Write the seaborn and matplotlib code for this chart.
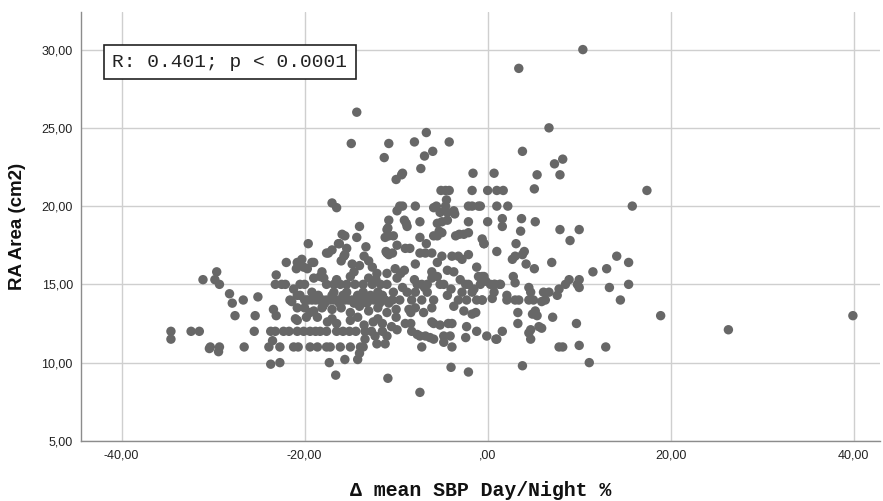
import matplotlib
matplotlib.use("Agg")
import matplotlib.pyplot as plt
import seaborn as sns
import pandas as pd
from matplotlib.ticker import FuncFormatter, FixedLocator

# ---- data ----
delta_sbp = [
    # far left
    -34.6, -34.6, -32.4, -31.5, -31.1, -29.8, -29.6, -29.3, -30.3, -29.3, -29.4, -30.4,
    -28.2, -27.9, -26.7, -25.1, -27.6, -25.4, -25.5, -26.6,
    # -24 .. -20
    -23.1, -23.2, -22.1, -22.5, -22.0, -20.3, -20.9, -21.2, -20.8, -21.6, -21.4, -20.8,
    -21.0, -23.4, -23.1, -23.5,
    # row ~12
    -23.7, -23.2, -22.3, -21.7, -20.8, -20.1, -19.4, -18.8, -18.3, -17.6, -16.5, -15.8,
    -15.1, -14.4, -13.4, -12.7, -11.5,
    # row ~11
    -23.9, -22.7, -21.2, -20.7, -19.4, -18.6, -17.6, -17.2, -16.1, -15.0, -13.9, -13.6,
    -12.1, -11.2,
    # low
    -23.7, -22.7, -17.3, -15.6, -14.2, -14.0, -16.6, -10.9,
    # -20..-16 upper
    -19.6, -17.6, -19.0, -19.7, -20.8, -20.1, -19.2, -18.1, -17.9, -17.0, -16.2, -15.6,
    -16.3, -15.4, -17.4, -15.7,
    # row 15
    -20.5, -20.0, -17.6, -16.8, -16.1, -15.4, -14.5, -13.6, -12.6, -11.7, -11.0,
    # row 14.5
    -19.2, -16.8, -15.4, -13.6, -12.0, -10.3,
    # row 14
    -20.0, -19.6, -19.2, -18.4, -17.6, -16.8, -16.0, -15.2, -14.4, -13.6, -12.8, -12.0,
    -11.2, -10.4, -9.6,
    # row 13.x
    -20.0, -19.4, -18.1, -19.0, -18.0, -17.0, -16.0, -15.0, -14.0, -13.0, -12.0, -11.0, -10.0,
    # row 12.x
    -18.6, -17.5, -16.5, -15.0, -13.5, -12.5, -11.5, -10.5, -20.8,
    -11.0, -9.9, -12.3, -13.4,
    # dense core extra
    -19.8, -18.8, -18.0, -17.2, -16.4, -15.6, -14.8, -14.0, -13.2, -12.4,
    -20.5, -18.5, -17.0, -15.8, -14.2, -12.8, -11.5,
    -19.0, -18.3, -16.5, -15.0, -13.0, -12.2,
    -17.8, -16.2, -14.6, -13.2, -11.8, -10.8,
    -19.8, -17.0, -14.2, -12.0, -10.0,
    -16.0, -14.8, -13.5,
    -9.3, -8.0, -6.9, -5.5, -4.0, -3.0, -1.5, -0.2,
    # upper mid
    -14.3, -14.9, -10.8, -11.3, -10.0, -17.0, -16.5, -10.8, -14.0, -14.3, -15.9, -15.6,
    -9.9, -9.6, -11.0, -10.8, -10.3, -11.2, -13.3, -11.0, -10.4, -9.9, -10.9, -11.1, -10.8,
    -14.6, -12.6, -12.1, -11.0, -10.1, -9.9, -13.0, -14.0,
    # -10 .. 0
    -8.0, -6.7, -4.2, -6.0, -6.9, -7.3, -9.3, -9.4, -1.6, 0.7,
    -5.1, -4.6, -4.2, -1.7, 0.0, 1.0, 1.7,
    -4.5, -4.6, -9.3, -7.9, -5.9, -5.6, -3.7, -3.6, -5.2, -4.4, -2.1, -1.0, -1.7,
    -9.1, -8.8, -7.4, -5.5, -5.0, -4.4, -2.1,
    -5.9, -5.5, -5.0, -3.5, -3.1, -2.6, -2.1, -7.4, -6.7, -0.6, -0.4, -5.3, -8.9,
    -9.0, -8.5, -7.4, -6.8, -6.1, -5.0, -3.9, -3.2, -2.1,
    -7.9, -9.5, -9.1, -5.5, -4.4, -3.7, -2.8, -1.2, -0.6, -1.0, -6.1, -6.1,
    -7.7, -7.2, -6.6, -5.2, -4.8, -2.4, -2.1, -0.8, 0.3, 0.8, 1.4,
    -8.8, -8.3, -7.9, -7.2, -6.6, -5.9, -4.4, -3.2, -2.8, -2.3, -1.7, -1.2, -0.6, 0.5, 0.7,
    -8.6, -8.4, -7.9, -7.0, -6.1, -3.7, -2.6, -1.7, -1.3,
    -9.0, -8.4, -6.1, -5.9, -5.2, -4.3, -3.9, -2.3,
    -8.3, -7.7, -7.4, -6.8, -6.3, -5.9, -4.8, -4.1, -2.4, -1.2, -0.1, 0.9, 1.6,
    -7.2, -4.8, -3.9, -4.0, -2.1, -7.4,
    # 0 .. 40
    10.4, 3.4, 6.7, 3.8, 7.3, 8.2, 5.4, 7.9, 5.1, 17.4, 1.0, 2.2, -0.8, 15.8,
    0.0, 1.6, 1.6, 3.7, 5.2, 3.6, 7.9, 10.0, -0.4, 3.1, 9.0, 1.0, 3.8, 4.0, 3.0, 2.7,
    4.2, 5.1, 7.0, 14.1, 15.4, 13.0, 11.5,
    -0.4, 2.8, 3.0, 4.5, 4.7, 0.7, 1.3, 8.9, 8.5, 7.8, 6.7, 10.0, 10.0, 9.8, 13.3, 15.4, 14.5,
    -0.6, 2.1, 2.1, 3.0, 3.4, 5.0, 5.9, 6.3, 4.5, 6.1, 7.6,
    3.3, 5.2, 4.9, 5.4, 7.1, 18.9, 39.9, 26.3,
    3.3, 9.7, 4.7, 4.5, 5.6, 5.9, 1.0, 4.7,
    8.2, 10.0, 12.9, 7.8, 11.1, 3.8,
]

ra_area = [
    # far left
    12.0, 11.5, 12.0, 12.0, 15.3, 15.3, 15.8, 15.0, 11.0, 11.0, 10.7, 10.9,
    14.4, 13.8, 14.0, 14.2, 13.0, 13.0, 12.0, 11.0,
    # -24 .. -20
    15.6, 15.0, 15.0, 15.0, 16.4, 16.6, 16.0, 14.7, 14.3, 14.0, 13.9, 13.5,
    12.8, 13.4, 13.0, 11.4,
    # row ~12
    12.0, 12.0, 12.0, 12.0, 12.0, 12.0, 12.0, 12.0, 12.0, 12.0, 12.0, 12.0,
    12.0, 12.0, 12.0, 12.0, 12.0,
    # row ~11
    11.0, 11.0, 11.0, 11.0, 11.0, 11.0, 11.0, 11.0, 11.0, 11.0, 11.0, 11.0,
    11.2, 11.2,
    # low
    9.9, 10.0, 10.0, 10.2, 10.2, 10.6, 9.2, 9.0,
    # -20..-16 upper
    17.6, 17.0, 16.4, 16.0, 16.4, 16.1, 16.4, 15.8, 15.4, 17.2, 17.6, 16.9,
    17.6, 17.3, 17.0, 16.8,
    # row 15
    15.0, 15.0, 15.0, 15.0, 15.0, 15.0, 15.0, 15.0, 15.0, 15.0, 15.0,
    # row 14.5
    14.5, 14.5, 14.5, 14.5, 14.5, 14.5,
    # row 14
    14.0, 14.0, 14.0, 14.0, 14.0, 14.0, 14.0, 14.0, 14.0, 14.0, 14.0, 14.0,
    14.0, 14.0, 14.0,
    # row 13.x
    13.5, 13.2, 13.5, 13.3, 13.6, 13.4, 13.5, 13.2, 13.6, 13.3, 13.5, 13.2, 13.4,
    # row 12.x
    12.9, 12.6, 12.5, 12.7, 12.4, 12.6, 12.5, 12.3, 12.7,
    11.7, 12.1, 11.7, 11.5,
    # dense core extra
    14.0, 14.0, 14.0, 14.0, 14.0, 14.0, 14.0, 14.0, 14.0, 14.0,
    14.3, 14.3, 14.3, 14.3, 14.3, 14.3, 14.3,
    15.4, 15.5, 15.3, 15.5, 15.4, 15.3,
    13.8, 13.8, 13.8, 13.8, 13.8, 13.8,
    12.9, 12.8, 12.9, 12.8, 12.9,
    16.5, 16.3, 16.8,
    14.8, 15.3, 14.8, 15.5, 14.7, 15.3, 14.7, 15.2,
    # upper mid
    26.0, 24.0, 24.0, 23.1, 21.7, 20.2, 19.9, 19.1, 18.7, 18.0, 18.2, 18.1,
    19.7, 20.0, 18.5, 18.1, 18.1, 18.0, 17.4, 17.0, 17.0, 17.5, 18.6, 17.1, 16.9,
    15.8, 16.1, 15.7, 15.7, 16.0, 15.4, 16.5, 16.2,
    # -10 .. 0
    24.1, 24.7, 24.1, 23.5, 23.2, 22.4, 22.1, 22.0, 22.1, 22.1,
    21.0, 21.0, 21.0, 21.0, 21.0, 21.0, 21.0,
    20.4, 20.0, 20.0, 20.0, 19.9, 20.0, 19.7, 19.5, 19.6, 19.6, 20.0, 20.0, 20.0,
    19.1, 18.7, 19.0, 18.9, 19.0, 19.1, 19.0,
    18.1, 18.1, 18.3, 18.1, 18.2, 18.2, 18.3, 18.0, 17.6, 17.9, 17.6, 18.4, 18.9,
    17.3, 17.3, 17.0, 17.0, 17.0, 16.8, 16.8, 16.8, 16.9,
    16.3, 15.7, 15.9, 16.4, 15.9, 15.8, 16.6, 16.1, 15.5, 15.5, 15.8, 15.4,
    15.0, 15.0, 15.0, 15.0, 15.0, 15.0, 15.0, 15.0, 15.0, 15.0, 15.0,
    14.5, 14.0, 14.5, 14.0, 14.5, 14.0, 14.3, 14.0, 14.5, 14.0, 14.5, 14.0, 14.0, 14.1, 14.5,
    13.4, 13.2, 13.5, 13.2, 13.5, 13.6, 13.3, 13.1, 13.2,
    12.5, 12.5, 12.6, 12.5, 12.4, 12.5, 12.5, 12.3,
    12.0, 11.8, 11.7, 11.7, 11.6, 11.5, 11.7, 11.7, 11.6, 12.0, 11.7, 11.5, 12.0,
    11.0, 11.3, 11.0, 9.7, 9.4, 8.1,
    # 0 .. 40
    30.0, 28.8, 25.0, 23.5, 22.7, 23.0, 22.0, 22.0, 21.1, 21.0, 20.0, 20.0, 20.0, 20.0,
    19.0, 19.2, 18.7, 19.2, 19.0, 18.4, 18.5, 18.5, 17.6, 17.6, 17.8, 17.1, 16.9, 17.1, 16.8, 16.6,
    16.3, 16.0, 16.4, 16.8, 16.4, 16.0, 15.8,
    15.5, 15.5, 15.1, 14.8, 14.5, 15.0, 15.0, 15.3, 15.0, 14.7, 14.5, 15.3, 14.8, 15.0, 14.8, 15.0, 14.0,
    14.0, 14.3, 14.0, 14.0, 14.0, 14.0, 13.9, 14.0, 14.0, 14.5, 14.3,
    13.2, 13.3, 13.1, 13.0, 12.9, 13.0, 13.0, 12.1,
    12.5, 12.5, 12.1, 11.9, 12.3, 12.2, 11.5, 11.5,
    11.0, 11.1, 11.0, 11.0, 10.0, 9.8,
]

x_ticks = [-40, -20, 0, 20, 40]
y_ticks = [5, 10, 15, 20, 25, 30]
x_label = "\u0394 mean SBP Day/Night %"
y_label = "RA Area (cm2)"
annotation = "R: 0.401; p < 0.0001"

df = pd.DataFrame({"delta": delta_sbp, "area": ra_area})

sns.set_style("white")
plt.rcParams["font.family"] = ["Liberation Sans", "DejaVu Sans"]

fig = plt.figure(figsize=(8.83, 5.01), dpi=100)
ax = fig.add_axes([0.092, 0.12, 0.905, 0.856])

sns.scatterplot(data=df, x="delta", y="area", ax=ax, color="#676767",
                s=46, linewidth=0, edgecolor="none", zorder=3)

ax.set_xlim(-44.4, 42.9)
ax.set_ylim(5, 32.4)
ax.xaxis.set_major_locator(FixedLocator(x_ticks))
ax.yaxis.set_major_locator(FixedLocator(y_ticks))


def comma_fmt(v, pos=None):
    s = f"{abs(v):.2f}".replace(".", ",")
    if s.startswith("0"):
        s = s[1:]
    return ("-" if v < 0 else "") + s


ax.xaxis.set_major_formatter(FuncFormatter(comma_fmt))
ax.yaxis.set_major_formatter(FuncFormatter(comma_fmt))

ax.grid(True, color="#cfcfcf", linewidth=1.0, zorder=0)
ax.set_axisbelow(True)
for side in ["top", "right"]:
    ax.spines[side].set_visible(False)
for side in ["left", "bottom"]:
    ax.spines[side].set_color("#8c8c8c")
    ax.spines[side].set_linewidth(1.0)

ax.tick_params(axis="y", length=4, color="#cfcfcf", labelsize=9, pad=2, labelcolor="#222222")
ax.tick_params(axis="x", length=0, labelsize=9, pad=6, labelcolor="#222222")

ax.set_xlabel(x_label, family=["Liberation Mono", "DejaVu Sans Mono"], fontweight="bold",
              fontsize=14.3, labelpad=14, color="#111111")
ax.set_ylabel(y_label, fontweight="bold", fontsize=13.5, labelpad=11, color="#111111")

ax.text(0.186, 0.883, annotation, transform=ax.transAxes, ha="center", va="center",
        family=["Liberation Mono", "DejaVu Sans Mono"], fontsize=14, color="#222222",
        bbox=dict(boxstyle="square,pad=0.45", facecolor="white", edgecolor="#222222",
                  linewidth=1.2), zorder=5)

fig.savefig("out.png", dpi=100)
